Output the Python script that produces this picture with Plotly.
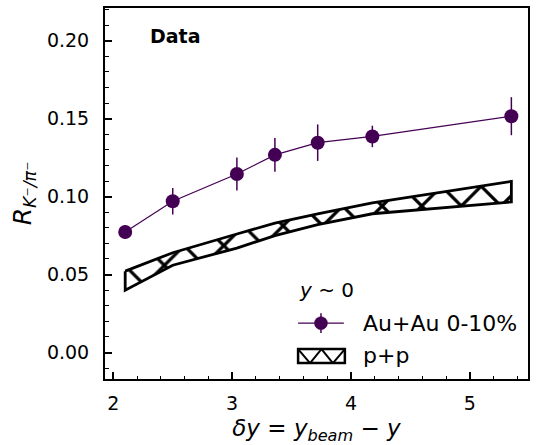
import plotly.graph_objects as go

# delta-y = y_beam - y for each collision energy
dy = [2.10, 2.50, 3.04, 3.36, 3.72, 4.18, 5.35]

# Au+Au 0-10% K-/pi- ratio and its uncertainty
auau_ratio = [0.0773, 0.0970, 0.1145, 0.1268, 0.1346, 0.1386, 0.1516]
auau_err = [0.0045, 0.0085, 0.0106, 0.0108, 0.0117, 0.0069, 0.0122]

# p+p reference band (lower and upper edges)
pp_upper = [0.0522, 0.0640, 0.0760, 0.0830, 0.0890, 0.0960, 0.1098]
pp_lower = [0.0400, 0.0560, 0.0670, 0.0750, 0.0820, 0.0890, 0.0966]

x_ticks = [2, 3, 4, 5]
y_ticks = [0.00, 0.05, 0.10, 0.15, 0.20]

PURPLE = "#440154"
FONT = "DejaVu Sans"

W, H = 536, 445
M_L, M_R, M_T, M_B = 105, 6, 7, 66
PW, PH = W - M_L - M_R, H - M_T - M_B


def px(xp):
    """Horizontal pixel position -> paper fraction."""
    return (xp - M_L) / PW


def py(yp):
    """Vertical pixel position (from top) -> paper fraction."""
    return (H - M_B - yp) / PH


fig = go.Figure()

# p+p band as a closed hatched polygon
band_x = dy + dy[::-1] + [dy[0]]
band_y = pp_upper + pp_lower[::-1] + [pp_upper[0]]
fig.add_trace(go.Scatter(
    x=band_x,
    y=band_y,
    mode="lines",
    fill="toself",
    fillcolor="white",
    fillpattern=dict(shape="x", size=28, solidity=0.22,
                     fgcolor="black", bgcolor="white",
                     fgopacity=1, fillmode="replace"),
    line=dict(color="black", width=2.8),
    name="p+p",
    showlegend=False,
))

fig.add_trace(go.Scatter(
    x=dy,
    y=auau_ratio,
    mode="lines+markers",
    line=dict(color=PURPLE, width=1.2),
    marker=dict(color=PURPLE, size=14, symbol="circle"),
    error_y=dict(type="data", array=auau_err, color=PURPLE,
                 thickness=1.5, width=0),
    name="Au+Au 0-10%",
    showlegend=False,
))

fig.add_annotation(
    x=px(148), y=py(35.5), xref="paper", yref="paper",
    text="<b>Data</b>", showarrow=False,
    xanchor="left", yanchor="middle",
    font=dict(family=FONT, size=19, color="black"),
)

# ---- legend, drawn in paper space ----
shapes = []
annos = []

annos.append(dict(
    x=px(298), y=py(290), xref="paper", yref="paper",
    text="<i>y</i> ~ 0", showarrow=False, xanchor="left", yanchor="middle",
    font=dict(family=FONT, size=20, color="black"),
))

# Au+Au entry: line, error bar, marker
ly = 323
shapes.append(dict(type="line", xref="paper", yref="paper",
                   x0=px(299), x1=px(345), y0=py(ly), y1=py(ly),
                   line=dict(color=PURPLE, width=1.2)))
shapes.append(dict(type="line", xref="paper", yref="paper",
                   x0=px(322), x1=px(322), y0=py(313), y1=py(333),
                   line=dict(color=PURPLE, width=1.5)))
shapes.append(dict(type="circle", xref="paper", yref="paper",
                   x0=px(315.5), x1=px(328.5), y0=py(ly + 6.5), y1=py(ly - 6.5),
                   fillcolor=PURPLE, line=dict(color=PURPLE, width=0.5)))
annos.append(dict(
    x=px(362), y=py(ly), xref="paper", yref="paper",
    text="Au+Au 0-10%", showarrow=False, xanchor="left", yanchor="middle",
    font=dict(family=FONT, size=22, color="black"),
))

# p+p entry: hatched box
bx0, bx1, by0, by1 = 299, 346, 349, 363
zig = [(bx0, by0), (311, by1), (322.5, by0), (334, by1), (bx1, by0)]
for (xa, ya), (xb, yb) in zip(zig[:-1], zig[1:]):
    shapes.append(dict(type="line", xref="paper", yref="paper",
                       x0=px(xa), x1=px(xb), y0=py(ya), y1=py(yb),
                       line=dict(color="black", width=2)))
shapes.append(dict(type="rect", xref="paper", yref="paper",
                   x0=px(bx0), x1=px(bx1), y0=py(by1), y1=py(by0),
                   line=dict(color="black", width=2.5)))
annos.append(dict(
    x=px(362), y=py(355), xref="paper", yref="paper",
    text="p+p", showarrow=False, xanchor="left", yanchor="middle",
    font=dict(family=FONT, size=22, color="black"),
))

for a in annos:
    fig.add_annotation(**a)

axis_common = dict(
    showgrid=False, zeroline=False,
    showline=True, linecolor="black", linewidth=2, mirror=True,
    ticks="inside", ticklen=7, tickwidth=1.5, tickcolor="black",
    tickfont=dict(family=FONT, size=19, color="black"),
)

fig.update_xaxes(
    range=[1.93, 5.49],
    tickvals=x_ticks,
    minor=dict(ticks="inside", dtick=0.2, ticklen=3.5, tickwidth=1.2,
               tickcolor="black"),
    title=dict(text="<i>δy</i> = <i>y</i><sub><i>beam</i></sub> − <i>y</i>",
               font=dict(family=FONT, size=23, color="black"), standoff=8),
    ticklabelstandoff=6,
    **axis_common,
)
fig.update_yaxes(
    range=[-0.017, 0.221],
    tickvals=y_ticks,
    tickformat=".2f",
    minor=dict(ticks="inside", dtick=0.01, ticklen=3.5, tickwidth=1.2,
               tickcolor="black"),
    title=dict(text="<i>R</i><sub><i>K⁻/π⁻</i></sub>",
               font=dict(family=FONT, size=25, color="black"), standoff=8),
    ticklabelstandoff=10,
    **axis_common,
)

fig.update_layout(
    width=W, height=H,
    margin=dict(l=M_L, r=M_R, t=M_T, b=M_B),
    paper_bgcolor="white", plot_bgcolor="white",
    font=dict(family=FONT, color="black"),
    showlegend=False,
    shapes=shapes,
)

fig.write_html("out.html")
